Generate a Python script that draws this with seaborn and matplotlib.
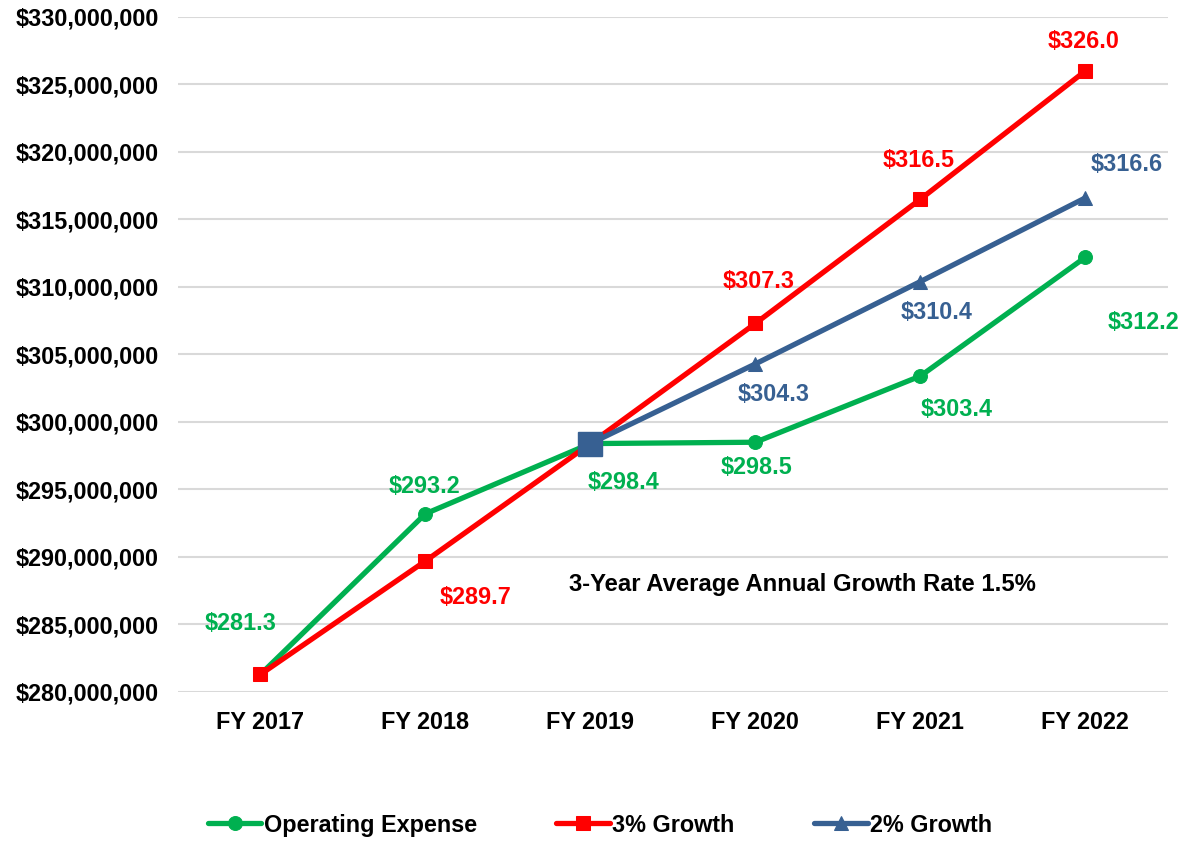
import numpy as np
import pandas as pd
import matplotlib
matplotlib.use("Agg")
import matplotlib.pyplot as plt
import seaborn as sns
from matplotlib.ticker import FuncFormatter

# chart data (millions of dollars)
years = ["FY 2017", "FY 2018", "FY 2019", "FY 2020", "FY 2021", "FY 2022"]
opex = [281.3, 293.2, 298.4, 298.5, 303.4, 312.2]
growth3 = [281.3, 289.7, 298.4, 307.3, 316.5, 326.0]
growth2_years = ["FY 2019", "FY 2020", "FY 2021", "FY 2022"]
growth2 = [298.4, 304.3, 310.4, 316.6]
note = "3-Year Average Annual Growth Rate 1.5%"

green = "#00B050"
red = "#FF0000"
blue = "#376092"

sns.set_style("white")
plt.rcParams["font.family"] = ["Liberation Sans", "DejaVu Sans"]
plt.rcParams["font.weight"] = "bold"
plt.rcParams["text.color"] = "black"
plt.rcParams["xtick.color"] = "black"
plt.rcParams["ytick.color"] = "black"

pos = {y: i for i, y in enumerate(years)}
df_op = pd.DataFrame({"x": [pos[y] for y in years], "v": np.array(opex) * 1e6})
df_3 = pd.DataFrame({"x": [pos[y] for y in years], "v": np.array(growth3) * 1e6})
df_2 = pd.DataFrame({"x": [pos[y] for y in growth2_years], "v": np.array(growth2) * 1e6})

fig = plt.figure(figsize=(11.88, 8.41), dpi=100)
ax = fig.add_axes([0.1498, 0.1772, 0.8332, 0.8026])

sns.lineplot(data=df_op, x="x", y="v", ax=ax, color=green, lw=3.8,
             marker="o", markersize=10, markeredgecolor=green,
             label="Operating Expense", zorder=3)
sns.lineplot(data=df_3, x="x", y="v", ax=ax, color=red, lw=3.8,
             marker="s", markersize=10, markeredgecolor=red,
             label="3% Growth", zorder=4)
sns.lineplot(data=df_2, x="x", y="v", ax=ax, color=blue, lw=3.8,
             marker="^", markersize=10, markeredgecolor=blue,
             label="2% Growth", zorder=5)
# big square at the FY 2019 base point
ax.plot(df_2["x"].iloc[:1], df_2["v"].iloc[:1], ls="none", marker="s",
        markersize=17, color=blue, zorder=6)

# data label offsets in points (None = no label)
op_off = [(-14, 37), (-1, 20), (24, -28), (1, -18), (26, -24), (42, -47)]
g3_off = [None, (36, -26), None, (2, 30), (-1, 28), (-1, 21)]
g2_off = [None, (13, -22), (12, -22), (30, 24)]
for frame, col, offs in [(df_op, green, op_off), (df_3, red, g3_off), (df_2, blue, g2_off)]:
    for (x, v), off in zip(frame[["x", "v"]].values, offs):
        if off is None:
            continue
        ax.annotate(f"${v / 1e6:.1f}", (x, v), xytext=off, textcoords="offset points",
                    ha="center", va="center", color=col, fontsize=16.8,
                    fontweight="bold", zorder=7)

ax.text(0.631, 0.1585, note, transform=ax.transAxes, ha="center", va="center",
        fontsize=17.2, fontweight="bold", color="black")

ax.set_xlim(-0.5, 5.5)
ax.set_ylim(280e6, 330e6)
ax.set_yticks(np.arange(280e6, 330e6 + 1, 5e6))
ax.yaxis.set_major_formatter(FuncFormatter(lambda v, p: f"${v:,.0f}"))
ax.set_xticks(range(len(years)))
ax.set_xticklabels(years)
ax.set_xlabel("")
ax.set_ylabel("")
ax.tick_params(axis="both", length=0, labelsize=16.8)
ax.tick_params(axis="x", pad=14)
ax.tick_params(axis="y", pad=14)
for lab in ax.get_xticklabels() + ax.get_yticklabels():
    lab.set_fontweight("bold")
ax.grid(axis="y", color="#D9D9D9", lw=1.5)
ax.set_axisbelow(True)
for s in ax.spines.values():
    s.set_visible(False)

handles, labels = ax.get_legend_handles_labels()
ax.get_legend().remove()
fig.legend(handles[:3], labels[:3], loc="center", bbox_to_anchor=(0.505, 0.019),
           ncol=3, frameon=False, handlelength=2.3,
           handletextpad=0.1, columnspacing=3.4, markerscale=1.0,
           prop={"weight": "bold", "size": 16.8})

fig.savefig("out.png", dpi=100)
